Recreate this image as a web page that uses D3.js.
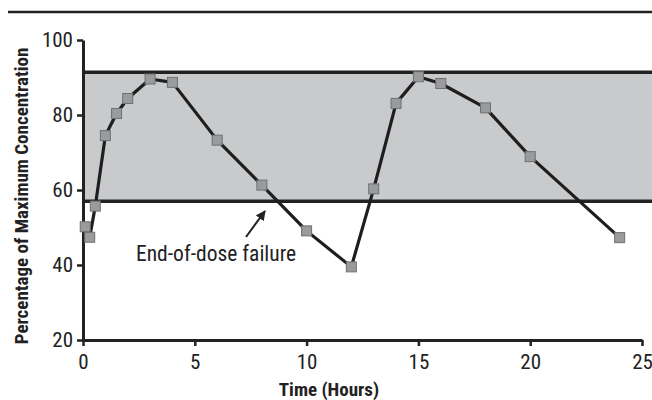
<!DOCTYPE html>
<html>
<head>
<meta charset="utf-8">
<script src="https://cdn.jsdelivr.net/npm/d3@7"></script>
<style>
  body { margin: 0; background: #fff; }
  svg text { font-family: "Liberation Sans Narrow", "Roboto Condensed", "Liberation Sans", sans-serif; font-stretch: condensed; fill: #222; }
</style>
</head>
<body>
<svg id="chart" width="652" height="400"></svg>
<script>
// time (hours) and % of maximum concentration
const hours = [0.1, 0.3, 0.55, 1, 1.5, 2, 3, 4, 6, 8, 10, 12, 13, 14, 15, 16, 18, 20, 24];
const percent = [50.2, 47.4, 55.7, 74.5, 80.4, 84.4, 89.6, 88.7, 73.3, 61.3, 49.1, 39.5, 60.3, 83.1, 90.2, 88.4, 81.9, 68.9, 47.3];

// therapeutic window
const band = [57, 91.4];

const xTicks = [0, 5, 10, 15, 20, 25];
const yTicks = [20, 40, 60, 80, 100];

const svg = d3.select("#chart");

const x = d3.scaleLinear().domain([0, 25]).range([83, 642]);
const y = d3.scaleLinear().domain([20, 100]).range([340, 40]);

// rule across the top
svg.append("line")
    .attr("x1", 8).attr("x2", 652)
    .attr("y1", 12).attr("y2", 12)
    .attr("stroke", "#222").attr("stroke-width", 2.5);

// shaded band
svg.append("rect")
    .attr("x", x(0)).attr("width", 652 - x(0))
    .attr("y", y(band[1])).attr("height", y(band[0]) - y(band[1]))
    .attr("fill", "#c9cacc");

svg.selectAll(".bandline")
    .data(band)
    .enter().append("line")
    .attr("x1", x(0)).attr("x2", 652)
    .attr("y1", d => y(d)).attr("y2", d => y(d))
    .attr("stroke", "#222").attr("stroke-width", 3.5);

// axes
const xAxis = svg.append("g")
    .attr("transform", "translate(0,340)")
    .call(d3.axisBottom(x).tickValues(xTicks).tickSize(6).tickSizeOuter(0).tickPadding(5));
const yAxis = svg.append("g")
    .attr("transform", "translate(83,0)")
    .call(d3.axisLeft(y).tickValues(yTicks).tickSize(6).tickSizeOuter(0).tickPadding(4));

[xAxis, yAxis].forEach(g => {
    g.select(".domain").attr("stroke", "#222").attr("stroke-width", 3);
    g.selectAll(".tick line").attr("stroke", "#222").attr("stroke-width", 2.5);
    g.selectAll(".tick text")
        .style("font-family", "'Liberation Sans Narrow', 'Roboto Condensed', sans-serif")
        .style("font-size", "21px").attr("fill", "#222");
});
xAxis.selectAll(".tick text").attr("dy", "0.85em");

// concentration line
const pts = hours.map((h, i) => [h, percent[i]]);
svg.append("path")
    .datum(pts)
    .attr("fill", "none")
    .attr("stroke", "#1e1e1e")
    .attr("stroke-width", 3.2)
    .attr("stroke-linejoin", "round")
    .attr("d", d3.line().x(d => x(d[0])).y(d => y(d[1])));

svg.selectAll(".pt")
    .data(pts)
    .enter().append("rect")
    .attr("x", d => x(d[0]) - 5)
    .attr("y", d => y(d[1]) - 5)
    .attr("width", 10).attr("height", 10)
    .attr("fill", "#9a9b9d")
    .attr("stroke", "#6f7072").attr("stroke-width", 1);

// annotation
svg.append("defs").append("marker")
    .attr("id", "arrow")
    .attr("viewBox", "0 0 10 10")
    .attr("refX", 9).attr("refY", 5)
    .attr("markerWidth", 5).attr("markerHeight", 5)
    .attr("orient", "auto")
    .append("path").attr("d", "M0,0 L10,5 L0,10 z").attr("fill", "#222");

svg.append("line")
    .attr("x1", 246).attr("y1", 237)
    .attr("x2", 265).attr("y2", 211)
    .attr("stroke", "#222").attr("stroke-width", 2)
    .attr("marker-end", "url(#arrow)");

svg.append("text")
    .attr("x", 136).attr("y", 261)
    .style("font-size", "21.5px")
    .text("End-of-dose failure");

// axis titles
svg.append("text")
    .attr("x", x(11)).attr("y", 396)
    .attr("text-anchor", "middle")
    .style("font-size", "19px").style("font-weight", "bold")
    .text("Time (Hours)");

svg.append("text")
    .attr("transform", "translate(28,196) rotate(-90)")
    .attr("text-anchor", "middle")
    .style("font-size", "19px").style("font-weight", "bold")
    .text("Percentage of Maximum Concentration");
</script>
</body>
</html>
